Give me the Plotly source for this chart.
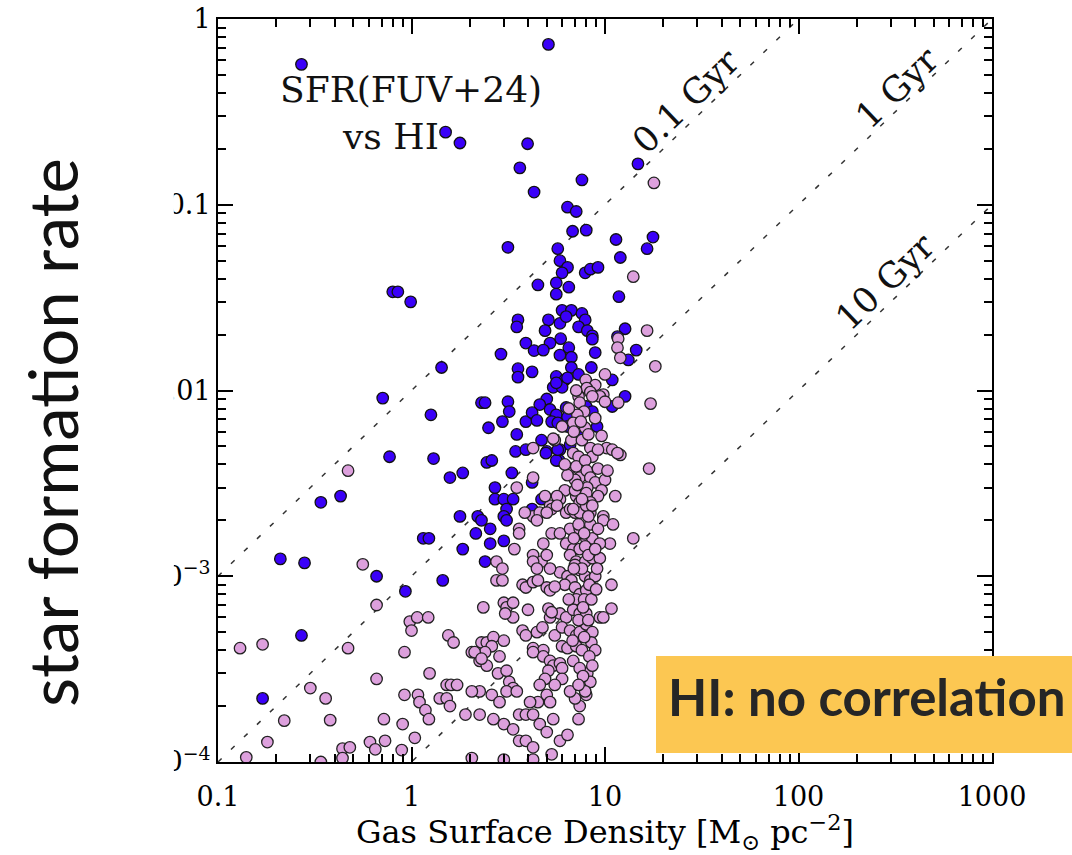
import plotly.graph_objects as go

# ---------------- data (Sigma_gas [Msun/pc^2], SFR) ----------------
blue_points = [
    (0.27, 0.57), (5.1, 0.73), (1.5, 0.246), (1.78, 0.215), (3.98, 0.213), (3.63, 0.158),
    (4.3, 0.117), (3.15, 0.059), (5.7, 0.058), (7.6, 0.136), (14.8, 0.166), (6.4, 0.097),
    (7.1, 0.092), (6.8, 0.072), (8.0, 0.073), (11.4, 0.065), (17.7, 0.067), (16.5, 0.058),
    (12.0, 0.052), (5.85, 0.050), (6.4, 0.046), (6.0, 0.043), (7.9, 0.043), (8.4, 0.045),
    (9.2, 0.046), (0.80, 0.034), (0.85, 0.034), (0.99, 0.030), (4.5, 0.037), (5.6, 0.038),
    (6.5, 0.036), (5.6, 0.033), (11.8, 0.032), (6.0, 0.027), (6.7, 0.027), (7.6, 0.026),
    (7.9, 0.024), (3.55, 0.024), (3.5, 0.022), (5.1, 0.024), (5.85, 0.023), (6.3, 0.025),
    (4.9, 0.021), (7.3, 0.022), (8.1, 0.021), (8.6, 0.0197), (8.6, 0.0189), (12.7, 0.0215),
    (5.9, 0.019), (5.2, 0.018), (11.6, 0.0195), (3.9, 0.018), (4.3, 0.0164), (4.8, 0.0165),
    (14.5, 0.0165), (6.5, 0.017), (8.9, 0.016), (2.9, 0.0157), (5.85, 0.0155), (6.7, 0.0151),
    (13.2, 0.0146), (1.43, 0.0133), (3.55, 0.0131), (3.55, 0.0118), (4.2, 0.0126), (6.7, 0.0133),
    (8.5, 0.0133), (10.9, 0.0114), (5.6, 0.0119), (6.2, 0.0114), (5.4, 0.0104), (6.0, 0.0104),
    (6.4, 0.0117), (7.3, 0.0122), (0.71, 0.0091), (2.3, 0.0086), (2.4, 0.0086), (3.15, 0.0087),
    (3.2, 0.0077), (5.0, 0.009), (4.6, 0.0084), (5.2, 0.0079), (5.6, 0.0074), (12.7, 0.0093),
    (10.9, 0.0082), (8.0, 0.0082), (8.6, 0.0077), (6.3, 0.0081), (6.4, 0.0072), (1.26, 0.0074),
    (2.95, 0.0068), (3.9, 0.0068), (4.2, 0.0076), (4.45, 0.0069), (5.3, 0.0068), (5.7, 0.0067),
    (6.4, 0.0064), (9.1, 0.0064), (2.5, 0.0063), (3.5, 0.0058), (4.7, 0.0054), (7.4, 0.0056),
    (5.0, 0.0047), (5.85, 0.0048), (6.6, 0.0051), (3.45, 0.0047), (3.9, 0.0048), (4.95, 0.0046),
    (5.8, 0.0042), (0.77, 0.0044), (1.3, 0.0043), (2.45, 0.0041), (2.6, 0.0042), (3.3, 0.0036),
    (1.58, 0.0034), (1.84, 0.0036), (4.2, 0.0032), (2.7, 0.003), (2.7, 0.0026), (3.0, 0.0026),
    (3.35, 0.0026), (0.43, 0.0027), (0.34, 0.0025), (3.1, 0.0023), (4.2, 0.0023), (1.78, 0.0021),
    (2.2, 0.0021), (3.0, 0.0021), (1.15, 0.0016), (1.23, 0.0016), (2.15, 0.0017), (2.55, 0.0018),
    (2.55, 0.0015), (3.0, 0.00155), (1.84, 0.0014), (2.4, 0.0012), (0.21, 0.00124), (0.28, 0.00118),
    (0.66, 0.0010), (1.45, 0.00095), (0.93, 0.00083), (0.27, 0.00048), (0.17, 0.00022), (2.3, 0.002),
    (3.1, 0.002), (5.6, 0.0042), (4.7, 0.0026), (5.6, 0.011), (5.7, 0.0048),
]

pink_points = [
    (17.9, 0.131), (14.0, 0.041), (16.5, 0.021), (11.7, 0.019), (11.6, 0.017), (12.0, 0.015),
    (18.2, 0.0135), (10.0, 0.0122), (7.95, 0.0114), (8.9, 0.0107), (8.05, 0.0103), (8.4, 0.0098),
    (9.8, 0.0095), (9.4, 0.0093), (10.0, 0.0087), (8.6, 0.0093), (11.7, 0.0086), (17.2, 0.0085),
    (7.3, 0.0093), (7.4, 0.0086), (7.8, 0.0077), (7.2, 0.0074), (6.85, 0.0067), (7.9, 0.0063),
    (8.9, 0.0071), (9.6, 0.0057), (10.2, 0.0049), (10.9, 0.0048), (12.0, 0.0045), (11.6, 0.0046),
    (5.5, 0.0054), (5.4, 0.0055), (4.25, 0.0049), (6.7, 0.0054), (6.85, 0.0046), (7.3, 0.0044),
    (7.6, 0.0054), (8.4, 0.0049), (8.6, 0.0044), (9.2, 0.0048), (6.6, 0.0038), (7.1, 0.0039),
    (7.4, 0.0034), (7.0, 0.0033), (7.9, 0.0042), (8.05, 0.0037), (8.4, 0.0034), (8.9, 0.0032),
    (8.1, 0.003), (9.2, 0.0038), (10.0, 0.0033), (10.3, 0.0037), (9.6, 0.0029), (9.2, 0.0027),
    (11.3, 0.0027), (16.9, 0.0038), (4.25, 0.0034), (3.5, 0.003), (6.2, 0.0029), (5.85, 0.0026),
    (5.65, 0.0027), (7.1, 0.0027), (7.4, 0.0025), (8.0, 0.0028), (8.4, 0.0025), (5.2, 0.0024),
    (5.3, 0.0023), (5.65, 0.0024), (6.3, 0.0022), (6.6, 0.0023), (7.0, 0.0022), (7.4, 0.0022),
    (8.4, 0.0022), (9.8, 0.0021), (4.25, 0.0021), (4.6, 0.0022), (0.47, 0.0037), (4.9, 0.0027),
    (3.6, 0.0018), (3.6, 0.0017), (3.4, 0.0014), (4.45, 0.002), (5.0, 0.0022), (6.85, 0.0023),
    (8.0, 0.0024), (8.6, 0.0024), (9.8, 0.002), (11.0, 0.0019), (14.0, 0.0016), (10.6, 0.0015),
    (4.8, 0.0015), (5.3, 0.0017), (5.85, 0.0017), (6.6, 0.0018), (7.4, 0.0018), (8.0, 0.0016),
    (8.6, 0.0016), (9.4, 0.0015), (4.25, 0.0013), (4.7, 0.0012), (4.25, 0.0012), (5.0, 0.0013),
    (6.3, 0.0015), (6.85, 0.0014), (7.4, 0.0014), (6.6, 0.0013), (7.1, 0.0012), (7.9, 0.0012),
    (8.6, 0.00125), (9.4, 0.00125), (2.75, 0.0012), (2.95, 0.0011), (2.75, 0.00095), (2.95, 0.00095),
    (3.75, 0.0009), (3.9, 0.00087), (4.25, 0.00093), (4.5, 0.00095), (5.0, 0.00087), (5.2, 0.00084),
    (5.85, 0.00105), (6.4, 0.001), (6.7, 0.00095), (7.4, 0.00108), (7.9, 0.001), (8.4, 0.00095),
    (8.9, 0.001), (10.8, 0.0009), (6.2, 0.0009), (7.0, 0.00087), (7.4, 0.0008), (8.0, 0.00084),
    (7.1, 0.00075), (2.35, 0.00068), (3.0, 0.00072), (3.1, 0.00068), (3.35, 0.00072), (3.35, 0.0006),
    (3.05, 0.00063), (4.0, 0.00066), (5.1, 0.00067), (5.2, 0.0006), (5.85, 0.00063), (6.3, 0.0006),
    (6.85, 0.00066), (7.4, 0.00063), (8.0, 0.00063), (9.4, 0.0006), (9.8, 0.0006), (10.8, 0.00067),
    (2.3, 0.00044), (2.45, 0.00044), (2.65, 0.00047), (2.6, 0.00042), (2.4, 0.00039), (2.85, 0.00037),
    (3.0, 0.00045), (3.75, 0.00051), (4.45, 0.0005), (4.75, 0.00053), (4.25, 0.00041), (4.8, 0.0004),
    (4.25, 0.00039), (4.8, 0.00037), (5.5, 0.00048), (6.0, 0.00053), (6.6, 0.00051), (7.1, 0.00048),
    (7.4, 0.0005), (6.0, 0.00042), (6.4, 0.00041), (7.1, 0.00042), (8.0, 0.00055), (8.6, 0.0005),
    (8.5, 0.00044), (8.9, 0.0004), (5.2, 0.00035), (5.4, 0.00033), (5.85, 0.00034), (6.0, 0.00032),
    (5.1, 0.00031), (2.25, 0.00035), (2.45, 0.00033), (2.8, 0.0003), (3.1, 0.00031), (3.2, 0.00027),
    (3.35, 0.00025), (3.1, 0.00024), (3.5, 0.00024), (2.25, 0.00024), (2.6, 0.00023), (2.85, 0.00021),
    (4.9, 0.00028), (6.0, 0.00028), (3.6, 0.00018), (3.9, 0.00018), (4.25, 0.00018), (4.5, 0.00021),
    (5.0, 0.00023), (5.2, 0.00021), (8.1, 0.0003), (8.4, 0.00027), (8.0, 0.00023), (7.4, 0.0002),
    (7.3, 0.00017), (2.65, 0.00017), (3.0, 0.00016), (3.35, 0.00015), (3.6, 0.00013), (3.9, 0.00013),
    (4.25, 0.00012), (4.6, 0.00016), (5.4, 0.00017), (5.85, 0.00013), (6.4, 0.00014), (5.3, 0.00011),
    (4.25, 0.000103), (3.0, 0.000103), (2.25, 0.00018),
    (0.13, 0.00041), (0.17, 0.00043), (0.66, 0.0007), (0.47, 0.00041), (0.92, 0.00039), (0.66, 0.00028),
    (0.30, 0.00025), (0.36, 0.00022), (0.22, 0.000167), (0.38, 0.000168), (0.18, 0.000128),
    (0.14, 0.000106), (0.44, 0.000118), (0.48, 0.00012), (0.61, 0.000128), (0.65, 0.000117),
    (0.73, 0.00013), (0.89, 0.000116), (1.04, 0.000135), (0.72, 0.00017), (0.92, 0.00023),
    (1.08, 0.00023), (1.1, 0.00021), (1.18, 0.00019), (1.23, 0.00017), (0.9, 0.00016), (1.24, 0.0003),
    (0.98, 0.00057), (1.07, 0.0006), (1.22, 0.0006), (1.0, 0.00051), (1.55, 0.00048), (1.65, 0.00044),
    (1.52, 0.00026), (1.6, 0.00026), (1.72, 0.00026), (1.4, 0.00022), (1.52, 0.00022), (1.58, 0.0002),
    (2.05, 0.00039), (2.12, 0.00039), (2.3, 0.00036), (0.56, 0.00116), (0.34, 0.0001), (0.44, 0.000105),
    (2.05, 0.000105), (2.05, 0.00024), (1.9, 0.00018), (5.0, 0.000145), (4.1, 0.00021), (4.6, 0.00026),
    (5.5, 0.00026), (3.9, 0.00048), (5.3, 0.00064), (5.5, 0.00088), (5.2, 0.0011), (4.45, 0.0011),
    (3.85, 0.0022), (6.85, 0.00035), (7.4, 0.00032), (7.9, 0.00024), (7.0, 0.00022), (6.6, 0.00024),
    (7.6, 0.0004), (7.3, 0.00058), (7.8, 0.00075), (8.5, 0.00075), (7.0, 0.00115), (7.9, 0.00145),
    (7.3, 0.0019), (8.4, 0.0019), (7.0, 0.0029),
    (7.6, 0.0026), (8.2, 0.0021), (7.8, 0.0017), (8.2, 0.0013), (7.6, 0.0011), (8.3, 0.0009),
    (7.7, 0.00068), (8.2, 0.00058), (7.8, 0.00047), (8.3, 0.00037), (7.7, 0.00029), (8.6, 0.00033),
    (7.3, 0.00026), (6.9, 0.0016), (6.9, 0.0011), (6.5, 0.00075), (6.8, 0.00045), (9.0, 0.00085),
    (9.1, 0.0011), (8.9, 0.0014), (9.2, 0.0018), (7.2, 0.0031), (6.4, 0.0035), (6.2, 0.0040),
    (6.9, 0.0060), (7.5, 0.0068), (8.2, 0.0058), (6.0, 0.0064), (6.5, 0.0080), (7.1, 0.0100),
]

# constant depletion-time lines (Sigma range and SFR at its ends)
line_sigma = [0.1, 1000]
line_01gyr = [1e-3, 10]
line_1gyr = [1e-4, 1]
line_10gyr = [1e-5, 0.1]
line_labels = ["0.1 Gyr", "1 Gyr", "10 Gyr"]

x_tick_values = [0.1, 1, 10, 100, 1000]
x_tick_labels = ["0.1", "1", "10", "100", "1000"]
y_tick_values = [1e-4, 1e-3, 1e-2, 0.1, 1]
y_tick_labels = ["10<sup>\u22124</sup>", "10<sup>\u22123</sup>", "0.01", "0.1", "1"]
x_minor = [m * 10.0 ** d for d in range(-1, 3) for m in range(2, 10)]
y_minor = [m * 10.0 ** d for d in range(-4, 0) for m in range(2, 10)]

BLUE = "#3a00f8"
PINK = "#dda0dd"
SERIF = "DejaVu Serif, Liberation Serif, serif"

fig = go.Figure()

for ys in (line_01gyr, line_1gyr, line_10gyr):
    fig.add_trace(go.Scatter(x=line_sigma, y=ys, mode="lines",
                             line=dict(color="#333333", width=1.5, dash="5px,13px"),
                             hoverinfo="skip", showlegend=False))

fig.add_trace(go.Scatter(x=[p[0] for p in blue_points], y=[p[1] for p in blue_points],
                         mode="markers", showlegend=False,
                         marker=dict(size=11.5, color=BLUE, line=dict(color="#111111", width=1.3))))
fig.add_trace(go.Scatter(x=[p[0] for p in pink_points], y=[p[1] for p in pink_points],
                         mode="markers", showlegend=False,
                         marker=dict(size=11.5, color=PINK, line=dict(color="#222222", width=1.3))))

axis_common = dict(type="log", ticks="inside", ticklen=15, tickwidth=2, tickcolor="black",
                   showline=True, linewidth=2, linecolor="black", mirror="ticks",
                   showgrid=False, zeroline=False, automargin=False,
                   tickfont=dict(family=SERIF, size=27, color="black"))

fig.update_layout(
    width=1072, height=855,
    margin=dict(l=218, r=80, t=19, b=93, autoexpand=False),
    paper_bgcolor="white", plot_bgcolor="white",
    xaxis=dict(axis_common, range=[-1, 3], tickmode="array", tickvals=x_tick_values,
               ticktext=x_tick_labels, ticklabelstandoff=10,
               minor=dict(tickmode="array", tickvals=x_minor, ticks="inside", ticklen=8,
                          tickwidth=1.5, tickcolor="black", showgrid=False),
               title=dict(text="Gas Surface Density [M<sub>\u2299</sub> pc<sup>\u22122</sup>]",
                          font=dict(family=SERIF, size=32, color="black"), standoff=2)),
    yaxis=dict(axis_common, range=[-4, 0], tickmode="array", tickvals=y_tick_values,
               ticktext=y_tick_labels, ticklabelstandoff=0,
               minor=dict(tickmode="array", tickvals=y_minor, ticks="inside", ticklen=8,
                          tickwidth=1.5, tickcolor="black", showgrid=False)),
    shapes=[
        # white slide area hiding the left part of the y tick labels
        dict(type="rect", xref="paper", yref="paper", x0=-0.30, x1=-0.057, y0=-0.13, y1=1.04,
             fillcolor="white", line=dict(width=0), layer="above"),
        # yellow caption box
        dict(type="rect", xref="paper", yref="paper", x0=0.5659, x1=1.11, y0=0.0121, y1=0.1427,
             fillcolor="#fcc752", line=dict(width=0), layer="above"),
    ],
    annotations=[
        dict(text="SFR(FUV+24)", x=-0.003, y=-0.382, xref="x", yref="y", showarrow=False,
             xanchor="center", yanchor="middle",
             font=dict(family=SERIF, size=36, color="#111111")),
        dict(text="vs HI", x=-0.106, y=-0.635, xref="x", yref="y", showarrow=False,
             xanchor="center", yanchor="middle",
             font=dict(family=SERIF, size=36, color="#111111")),
        dict(text=line_labels[0], x=1.419, y=-0.441, xref="x", yref="y", showarrow=False,
             xanchor="center", yanchor="middle",
             textangle=-43.9, font=dict(family=SERIF, size=35, color="#111111")),
        dict(text=line_labels[1], x=2.509, y=-0.371, xref="x", yref="y", showarrow=False,
             xanchor="center", yanchor="middle",
             textangle=-43.9, font=dict(family=SERIF, size=35, color="#111111")),
        dict(text=line_labels[2], x=2.447, y=-1.416, xref="x", yref="y", showarrow=False,
             xanchor="center", yanchor="middle",
             textangle=-43.9, font=dict(family=SERIF, size=35, color="#111111")),
        dict(text="star formation rate", x=-0.2145, y=0.444, xref="paper", yref="paper",
             showarrow=False, textangle=-90, xanchor="center", yanchor="middle",
             font=dict(family="Lato, Open Sans, sans-serif", size=67, color="#111111")),
        dict(text="<b>HI: no correlation</b>", x=0.8385, y=0.0875, xref="paper", yref="paper",
             showarrow=False, xanchor="center", yanchor="middle",
             font=dict(family="Lato, Roboto, sans-serif", size=51, color="#262626")),
    ],
)

fig.write_html("out.html")
